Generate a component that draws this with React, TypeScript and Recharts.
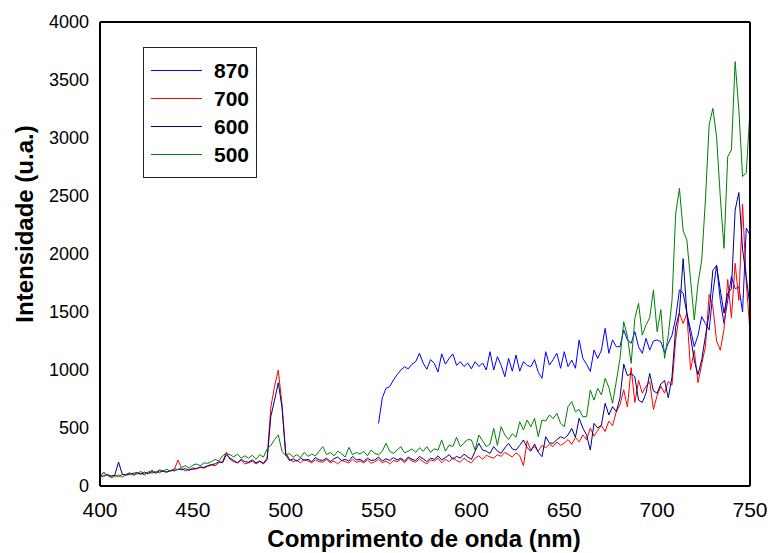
import React from 'react';
import { LineChart, Line, XAxis, YAxis, Legend, Label } from 'recharts';

const FONT = '"Liberation Sans", Arial, Helvetica, sans-serif';

const wavelengths = [
  400, 402, 404, 406, 408, 410, 412, 414, 416, 418,
  420, 422, 424, 426, 428, 430, 432, 434, 436, 438,
  440, 442, 444, 446, 448, 450, 452, 454, 456, 458,
  460, 462, 464, 466, 468, 470, 472, 474, 476, 478,
  480, 482, 484, 486, 488, 490, 492, 494, 496, 498,
  500, 502, 504, 506, 508, 510, 512, 514, 516, 518,
  520, 522, 524, 526, 528, 530, 532, 534, 536, 538,
  540, 542, 544, 546, 548, 550, 552, 554, 556, 558,
  560, 562, 564, 566, 568, 570, 572, 574, 576, 578,
  580, 582, 584, 586, 588, 590, 592, 594, 596, 598,
  600, 602, 604, 606, 608, 610, 612, 614, 616, 618,
  620, 622, 624, 626, 628, 630, 632, 634, 636, 638,
  640, 642, 644, 646, 648, 650, 652, 654, 656, 658,
  660, 662, 664, 666, 668, 670, 672, 674, 676, 678,
  680, 682, 684, 686, 688, 690, 692, 694, 696, 698,
  700, 702, 704, 706, 708, 710, 712, 714, 716, 718,
  720, 722, 724, 726, 728, 730, 732, 734, 736, 738,
  740, 742, 744, 746, 748, 750,
];

// 870: measured from 550 nm onward
const s870Start = 550;
const s870 = [
  540, 760, 842, 856, 914,
  960, 1000, 1028, 1010, 1050, 1072, 1144, 1060, 1006, 1090,
  1057, 983, 1139, 1050, 1100, 1139, 1040, 1072, 1030, 1060,
  1010, 1072, 1030, 1060, 1000, 1158, 1000, 1115, 1040, 942,
  1100, 990, 1129, 990, 1072, 1040, 1028, 1090, 980, 928,
  1158, 1043, 1090, 1144, 1015, 1158, 1028, 1086, 1015, 1259,
  1100, 1050, 988, 1172, 1100, 1172, 1359, 1144, 1259, 1201,
  1201, 1345, 1259, 1230, 1330, 1200, 1144, 1273, 1172, 1250,
  1259, 1244, 1150, 1230, 1300, 1450, 1690, 1664, 1489, 1350,
  1201, 1300, 1460, 1400, 1345, 1661, 1905, 1600, 1402, 1600,
  1805, 1700, 1718, 1500, 2224, 2164,
];

const s700 = [
  90, 80, 100, 85, 90, 80, 100, 95, 110, 100,
  105, 110, 95, 120, 110, 125, 115, 130, 120, 135,
  140, 224, 150, 130, 145, 140, 150, 160, 155, 170,
  180, 175, 200, 210, 290, 230, 210, 200, 220, 190,
  200, 215, 190, 210, 200, 240, 680, 860, 1000, 700,
  290, 230, 210, 220, 200, 230, 215, 200, 225, 210,
  205, 230, 200, 215, 190, 220, 210, 200, 230, 205,
  215, 200, 225, 195, 210, 230, 200, 215, 190, 220,
  210, 230, 200, 240, 215, 205, 235, 210, 190, 225,
  215, 240, 200, 230, 210, 245, 220, 205, 240, 215,
  200, 240, 260, 230, 265, 250, 240, 270, 255, 290,
  270, 250, 285, 260, 175, 390, 310, 340, 300, 350,
  330, 360, 340, 380, 350, 370, 400, 360, 420, 380,
  440, 400, 500, 430, 480, 520, 470, 560, 520, 640,
  700, 830, 680, 1020, 720, 910, 800, 860, 900, 660,
  780, 860, 800, 900, 870, 1260, 1490, 1400, 1490, 1000,
  1170, 890, 1050, 1200, 1650, 1550, 1250, 1170, 1350, 1780,
  1450, 1920, 1600, 2430, 1750, 1330,
];

const s600 = [
  80, 118, 90, 85, 95, 207, 100, 95, 100, 110,
  115, 100, 120, 105, 125, 110, 130, 125, 120, 135,
  130, 145, 140, 150, 135, 155, 150, 165, 160, 175,
  185, 190, 210, 200, 270, 240, 220, 200, 230, 210,
  205, 225, 200, 215, 190, 230, 600, 740, 890, 680,
  270, 220, 235, 215, 240, 220, 230, 210, 245, 225,
  220, 240, 210, 235, 250, 220, 230, 215, 255, 225,
  230, 210, 240, 220, 225, 250, 215, 235, 220, 245,
  225, 240, 215, 250, 230, 220, 255, 235, 210, 240,
  230, 260, 225, 245, 270, 230, 255, 240, 275, 250,
  230, 300, 368, 310, 300, 280, 339, 300, 282, 330,
  368, 320, 310, 350, 397, 330, 300, 362, 290, 253,
  425, 370, 368, 400, 425, 410, 440, 497, 420, 583,
  500, 440, 310, 540, 500, 526, 713, 612, 684, 640,
  760, 1050, 950, 970, 940, 740, 720, 800, 970, 820,
  800, 880, 910, 760, 940, 1370, 1500, 1960, 1490, 1290,
  1080, 960, 1090, 1290, 1490, 1860, 1900, 1690, 1490, 1660,
  1700, 2380, 2530, 2040, 1800, 1550,
];

const s500 = [
  75, 90, 100, 70, 85, 95, 75, 100, 115, 90,
  110, 125, 105, 120, 135, 115, 140, 130, 145, 125,
  150, 140, 160, 175, 155, 180, 190, 175, 200, 195,
  210, 230, 215, 260, 282, 270, 250, 275, 240, 260,
  240, 265, 230, 270, 250, 320, 350, 400, 440, 300,
  260, 280, 250, 270, 245, 290, 255, 275, 260, 300,
  339, 270, 290, 260, 300, 280, 250, 333, 270, 290,
  275, 300, 260, 310, 280, 270, 300, 368, 300, 280,
  310, 339, 285, 300, 320, 290, 330, 300, 339, 290,
  320, 310, 397, 300, 353, 340, 420, 339, 370, 400,
  397, 310, 440, 390, 339, 360, 497, 350, 511, 440,
  400, 450, 420, 554, 483, 569, 511, 583, 425, 569,
  560, 612, 580, 627, 540, 511, 684, 727, 640, 660,
  597, 598, 828, 740, 842, 785, 928, 850, 713, 900,
  1100, 1416, 1290, 1057, 1445, 1575, 1300, 1388, 1450, 1690,
  1330, 1520, 1100, 1300, 1600, 2350, 2566, 2200, 2120, 1776,
  1431, 1747, 1948, 2466, 3112, 3256, 3011, 2494, 2049, 2839,
  2897, 3658, 3241, 2667, 2700, 3241,
];

const xTicks = [400, 450, 500, 550, 600, 650, 700, 750];
const xMinorTicks = [425, 475, 525, 575, 625, 675, 725];
const xAllTicks = [400, 425, 450, 475, 500, 525, 550, 575, 600, 625, 650, 675, 700, 725, 750];
const yTicks = [0, 500, 1000, 1500, 2000, 2500, 3000, 3500, 4000];
const yMinorTicks = [250, 750, 1250, 1750, 2250, 2750, 3250, 3750];
const yAllTicks = [0, 250, 500, 750, 1000, 1250, 1500, 1750, 2000, 2250, 2500, 2750, 3000, 3250, 3500, 3750, 4000];

const series = [
  { key: 's870', name: '870', color: '#0000FF' },
  { key: 's700', name: '700', color: '#FF0000' },
  { key: 's600', name: '600', color: '#000080' },
  { key: 's500', name: '500', color: '#008000' },
];

const startIdx870 = wavelengths.indexOf(s870Start);
const data = wavelengths.map((wl, i) => ({
  wl,
  s870: i >= startIdx870 ? s870[i - startIdx870] : null,
  s700: s700[i],
  s600: s600[i],
  s500: s500[i],
}));

const LegendBox = () => (
  <svg width={114} height={131} style={{ display: 'block' }}>
    <rect x={0.5} y={0.5} width={113} height={130} fill="#fff" stroke="#222" strokeWidth={1} />
    {series.map((s, i) => {
      const cy = 23.5 + i * 28;
      return (
        <g key={s.key}>
          <line x1={8} x2={59} y1={cy} y2={cy} stroke={s.color} strokeWidth={1.2} />
          <text
            x={71}
            y={cy}
            dy="0.36em"
            fontFamily={FONT}
            fontWeight="bold"
            fontSize={21}
            fill="#000"
          >
            {s.name}
          </text>
        </g>
      );
    })}
  </svg>
);

const XTitle = (props: any) => {
  const vb = props.viewBox || {};
  return (
    <text
      x={vb.x + vb.width / 2 - 1}
      y={vb.y + 61}
      textAnchor="middle"
      fontFamily={FONT}
      fontWeight="bold"
      fontSize={24}
      fill="#000"
    >
      Comprimento de onda (nm)
    </text>
  );
};

const YTitle = (props: any) => {
  const vb = props.viewBox || {};
  const cx = vb.x - 7;
  const cy = vb.y + vb.height / 2 - 30;
  return (
    <text
      transform={`translate(${cx}, ${cy}) rotate(-90)`}
      textAnchor="middle"
      fontFamily={FONT}
      fontWeight="bold"
      fontSize={24}
      fill="#000"
    >
      Intensidade (u.a.)
    </text>
  );
};

const frame = { stroke: '#000', strokeWidth: 2 };
const tickStroke = { stroke: '#000', strokeWidth: 1 };

export default function App() {
  return (
    <div style={{ position: 'absolute', left: 0, top: 0, width: 771, height: 553, background: '#fff' }}>
      <LineChart
        width={771}
        height={553}
        data={data}
        margin={{ top: 22, right: 21, bottom: 37, left: 40 }}
      >
        <XAxis
          xAxisId="x"
          dataKey="wl"
          type="number"
          domain={[400, 750]}
          allowDataOverflow
          ticks={xTicks}
          interval={0}
          height={30}
          tickLine={false}
          axisLine={false}
          tickSize={8}
          tickMargin={8}
          tick={{ fontSize: 21, fill: '#000', fontFamily: FONT }}
        >
          <Label content={XTitle} />
        </XAxis>
        <YAxis
          yAxisId="y"
          type="number"
          domain={[0, 4000]}
          allowDataOverflow
          ticks={yTicks}
          interval={0}
          width={60}
          tickLine={false}
          axisLine={false}
          tickSize={5}
          tickMargin={6}
          tick={{ fontSize: 18, fill: '#000', fontFamily: FONT }}
        >
          <Label content={YTitle} />
        </YAxis>

        {/* inward tick marks and frame */}
        <XAxis xAxisId="bMaj" orientation="bottom" mirror type="number" domain={[400, 750]} allowDataOverflow
          ticks={xTicks} interval={0} tick={false} tickSize={8} tickLine={tickStroke} axisLine={frame} />
        <XAxis xAxisId="bMin" orientation="bottom" mirror type="number" domain={[400, 750]} allowDataOverflow
          ticks={xMinorTicks} interval={0} tick={false} tickSize={5} tickLine={tickStroke} axisLine={false} />
        <XAxis xAxisId="tAll" orientation="top" mirror type="number" domain={[400, 750]} allowDataOverflow
          ticks={xAllTicks} interval={0} tick={false} tickSize={3} tickLine={tickStroke} axisLine={frame} />
        <YAxis yAxisId="lMaj" orientation="left" mirror type="number" domain={[0, 4000]} allowDataOverflow
          ticks={yTicks} interval={0} tick={false} tickSize={5} tickLine={tickStroke} axisLine={frame} />
        <YAxis yAxisId="lMin" orientation="left" mirror type="number" domain={[0, 4000]} allowDataOverflow
          ticks={yMinorTicks} interval={0} tick={false} tickSize={3} tickLine={tickStroke} axisLine={false} />
        <YAxis yAxisId="rAll" orientation="right" mirror type="number" domain={[0, 4000]} allowDataOverflow
          ticks={yAllTicks} interval={0} tick={false} tickSize={3} tickLine={tickStroke} axisLine={frame} />

        <Legend
          layout="vertical"
          align="center"
          verticalAlign="middle"
          content={() => <LegendBox />}
          wrapperStyle={{ left: 143, top: 47, width: 114, height: 131 }}
        />

        {series.map((s) => (
          <Line
            key={s.key}
            xAxisId="x"
            yAxisId="y"
            type="linear"
            dataKey={s.key}
            name={s.name}
            stroke={s.color}
            strokeWidth={1}
            dot={false}
            activeDot={false}
            connectNulls={false}
            isAnimationActive={false}
          />
        ))}
      </LineChart>
    </div>
  );
}
